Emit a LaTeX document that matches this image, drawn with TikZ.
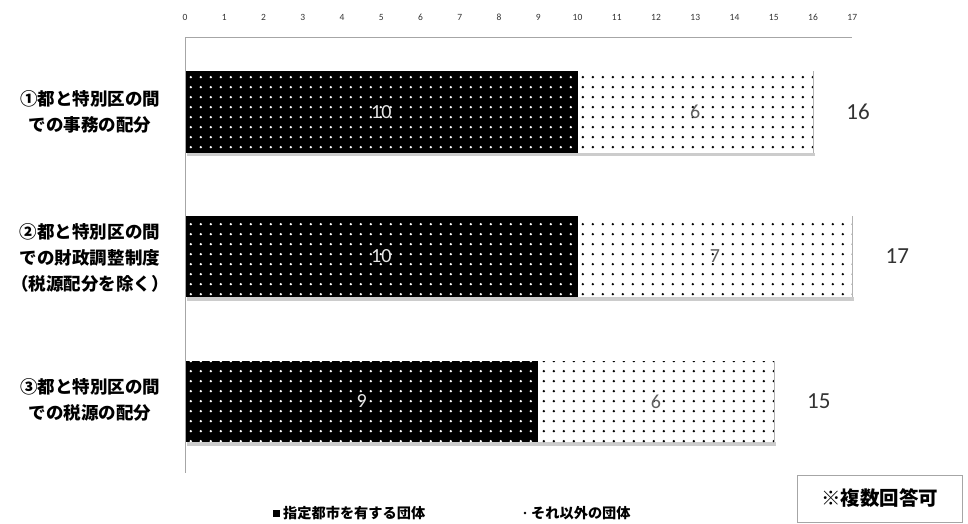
\documentclass[tikz,border=0pt]{standalone}
\usepackage{fontspec}
\setmainfont{Carlito}
\newfontfamily\jp{Noto Sans CJK JP}
\usetikzlibrary{patterns.meta}

\tikzdeclarepattern{
  name=bigdots,
  type=uncolored,
  bounding box={(0pt,0pt) and (9.8pt,9.8pt)},
  tile size={(9.8pt,9.8pt)},
  code={\fill (4.9pt,4.9pt) circle (1.35pt);}
}

\newcommand\drawbar[5]{% #1 y centre, #2 black value, #3 white value, #4 total, #5 name
  \pgfmathsetmacro\xa{185+#2*39.25}
  \pgfmathsetmacro\xb{185+#4*39.25}
  \fill[barshadow] (187,#1+40.5) rectangle (\xb+2,#1+44);
  \fill[black] (185,#1-40.5) rectangle (\xa,#1+40.5);
  \fill[pattern=bigdots,pattern color=white] (185,#1-40.5) rectangle (\xa,#1+40.5);
  \fill[white] (\xa,#1-40.5) rectangle (\xb,#1+40.5);
  \fill[pattern=bigdots,pattern color=black] (\xa,#1-40.5) rectangle (\xb,#1+40.5);
  \draw[gray!60] (\xb,#1-40.5) -- (\xb,#1+40.5);
  \node[inlbl,text=gray!20] (#5b) at ({(185+\xa)/2},#1) {#2};
  \node[inlbl,text=gray!75!black] (#5w) at ({(\xa+\xb)/2},#1) {#3};
  \node[totlbl] (#5t) at (\xb+45,#1) {#4};
}

\tikzset{
  axisline/.style={draw=gray!70, line width=1pt},
  barshadow/.style={fill=gray!40},
  ticklbl/.style={font=\fontsize{9.5}{10}\selectfont, text=black!80, inner sep=0pt},
  inlbl/.style={font=\fontsize{20}{22}\selectfont, inner sep=0pt},
  totlbl/.style={font=\fontsize{23}{25}\selectfont, text=black!80, inner sep=0pt},
  catlbl/.style={font=\jp\bfseries\fontsize{17.5}{26}\selectfont, align=center, inner sep=0pt},
  leglbl/.style={font=\jp\bfseries\fontsize{14.2}{16}\selectfont, anchor=west, inner sep=0pt},
  notebox/.style={draw=gray!70, line width=0.8pt, minimum width=165pt, minimum height=47pt,
    font=\jp\bfseries\fontsize{19.5}{22}\selectfont, inner sep=0pt},
}

\begin{document}
\begin{tikzpicture}[x=1pt,y=-1pt]
\useasboundingbox (0,0) rectangle (968,524);
\fill[white] (0,0) rectangle (968,524);

% tick labels
\foreach \i in {0,...,17} \node[ticklbl] (tk\i) at (185+\i*39.25,17) {\i};

% bars
\drawbar{112}{10}{6}{16}{b1}
\drawbar{256.5}{10}{7}{17}{b2}
\drawbar{401.5}{9}{6}{15}{b3}

% axes
\coordinate (orig) at (185,38);
\coordinate (xend) at (852.25,38);
\coordinate (yend) at (185,473);
\draw[axisline] (orig) -- (xend);
\draw[axisline] (orig) -- (yend);

% category labels
\node[catlbl] (c1) at (90,112) {①都と特別区の間\\での事務の配分};
\node[catlbl] (c2) at (90,258) {②都と特別区の間\\での財政調整制度\\（税源配分を除く）};
\node[catlbl] (c3) at (90,400) {③都と特別区の間\\での税源の配分};

% legend
\fill[black] (273,509.5) rectangle (279.5,516.5);
\node[leglbl] (lg1) at (283,513) {指定都市を有する団体};
\fill[black] (525,513) circle (1.3);
\node[leglbl] (lg2) at (531,513) {それ以外の団体};

% note box
\node[notebox] (nb) at (879.5,498.5) {※複数回答可};
\end{tikzpicture}
\end{document}
